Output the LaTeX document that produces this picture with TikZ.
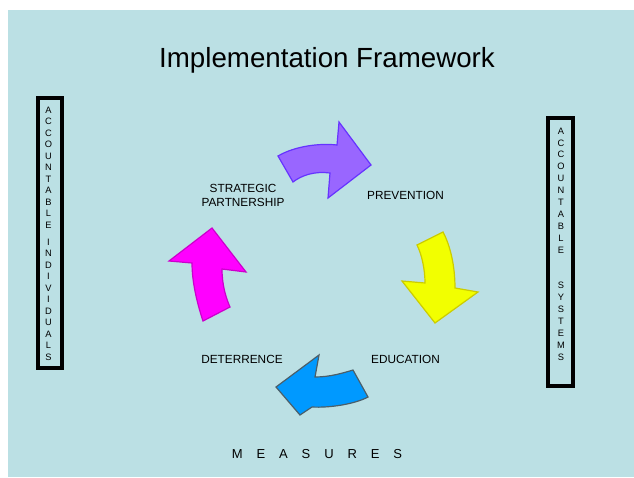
\documentclass[tikz,border=0pt]{standalone}
\usepackage{fontspec}
\setmainfont{Liberation Sans}
\definecolor{panel}{RGB}{187,224,228}
\definecolor{violetfill}{RGB}{153,102,255}
\definecolor{violetline}{RGB}{102,51,255}
\definecolor{yellowfill}{RGB}{242,255,0}
\definecolor{yellowline}{RGB}{204,204,0}
\definecolor{bluefill}{RGB}{0,153,255}
\definecolor{blueline}{RGB}{75,95,105}
\definecolor{pinkfill}{RGB}{255,0,255}
\definecolor{pinkline}{RGB}{204,0,204}
\begin{document}
\begin{tikzpicture}[x=1pt,y=-1pt,
  stage/.style={font=\fontsize{11.8}{14}\selectfont,align=center,inner sep=0pt},
  sidebox/.style={draw=black,line width=4pt},
  blockarrow/.style={line width=1.2pt,line join=miter}]
  \useasboundingbox (0,0) rectangle (634,477);
  \fill [panel] (8,10) rectangle (634,477);
  % title
  \node [anchor=base,inner sep=0pt,font=\fontsize{27.7}{32}\selectfont] (title) at (327,67) {Implementation Framework};
  % side columns
  \draw [sidebox] (38,98) rectangle (62,368);
  \node [inner sep=0pt,align=center,font=\fontsize{9.3}{11.5}\selectfont] (individuals) at (48.5,233.5)
    {A\\C\\C\\O\\U\\N\\T\\A\\B\\L\\E\\[5.75pt]I\\N\\D\\I\\V\\I\\D\\U\\A\\L\\S};
  \draw [sidebox] (548,118) rectangle (573,386);
  \node [inner sep=0pt,align=center,font=\fontsize{9.3}{11.9}\selectfont] (systems) at (561,244)
    {A\\C\\C\\O\\U\\N\\T\\A\\B\\L\\E\\[23.8pt]S\\Y\\S\\T\\E\\M\\S};
  % the four curved arrows
  \draw [blockarrow,draw=violetline,fill=violetfill] (278,156) .. controls (295,146) and (320,143) .. (337,145)
    -- (339,122) -- (371,165) -- (328,198) -- (330,173) .. controls (315,171) and (302,175) .. (293,182) -- cycle;
  \draw [blockarrow,draw=yellowline,fill=yellowfill] (443,232) -- (417,245) .. controls (422,255) and (425,270) .. (425,283)
    -- (402,281) -- (435,323) -- (478,292) -- (455,288) .. controls (455,265) and (450,245) .. cycle;
  \draw [blockarrow,draw=blueline,fill=bluefill] (319,355) -- (276,387) -- (300,415) -- (312,407)
    .. controls (330,408) and (355,404) .. (368,397) -- (353,370) .. controls (343,373) and (330,377) .. (315,377) -- cycle;
  \draw [blockarrow,draw=pinkline,fill=pinkfill] (212,228) -- (246,272) -- (222,269) .. controls (222,285) and (226,298) .. (230,307)
    -- (203,321) .. controls (196,300) and (192,280) .. (192,263) -- (169,261) -- cycle;
  % stage names
  \node [stage,anchor=base] (partnership) at (243,206) {STRATEGIC\\PARTNERSHIP};
  \node [stage,anchor=base] (prevention) at (405.5,199) {PREVENTION};
  \node [stage,anchor=base] (education) at (405.5,363) {EDUCATION};
  \node [stage,anchor=base] (deterrence) at (242,363) {DETERRENCE};
  \node [anchor=base,inner sep=0pt,font=\fontsize{13}{15}\selectfont] (measures) at (317,458)
    {\spaceskip=13.9pt M E A S U R E S};
\end{tikzpicture}
\end{document}
